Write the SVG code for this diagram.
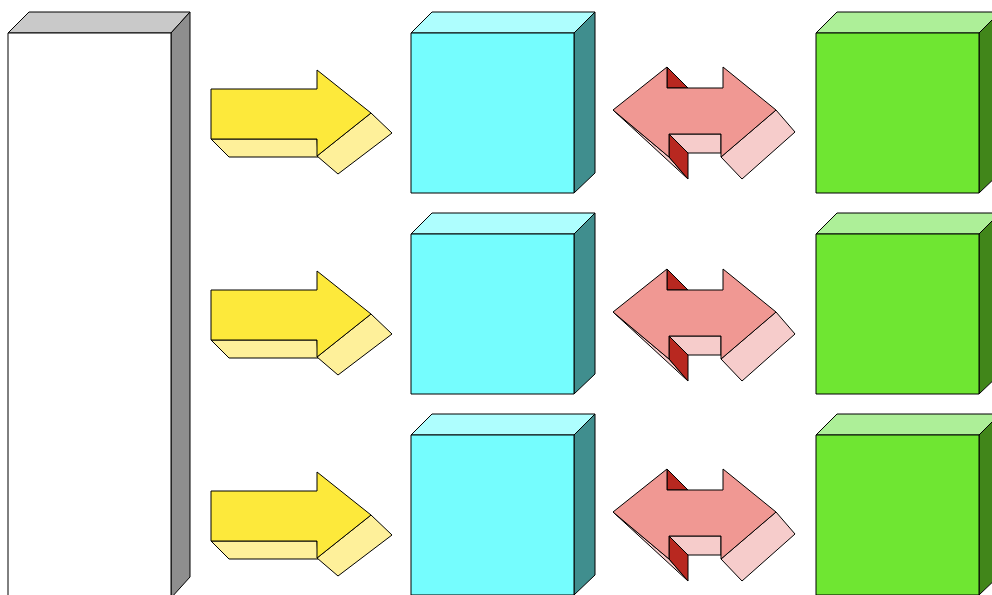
<svg xmlns="http://www.w3.org/2000/svg" xmlns:xlink="http://www.w3.org/1999/xlink" width="992" height="595" viewBox="0 0 992 595">
<style>
  .ln{stroke:#000;stroke-width:1;stroke-linejoin:round}
  .gf{fill:#ffffff}.gt{fill:#c9c9c9}.gs{fill:#8e8e8e}
  .cf{fill:#75fdfe}.ct{fill:#aefefe}.cs{fill:#408e8e}
  .nf{fill:#6fe632}.nt{fill:#adef98}.ns{fill:#41861a}
  .ym{fill:#fde93b}.yl{fill:#fef09a}
  .rm{fill:#f09893}.rl{fill:#f6cccb}.rd{fill:#b82820}
</style>
<defs>
  <g id="cyanCube">
    <polygon class="ct ln" points="411,33 432,12 595,12 574,33"/>
    <polygon class="cs ln" points="574,33 595,12 595,173 574,193"/>
    <rect class="cf ln" x="411" y="33" width="163" height="160"/>
  </g>
  <g id="greenCube">
    <polygon class="nt ln" points="816,33 837,12 1000,12 979,33"/>
    <polygon class="ns ln" points="979,33 1000,12 1000,173 979,193"/>
    <rect class="nf ln" x="816" y="33" width="163" height="160"/>
  </g>
  <g id="yArrow">
    <polygon class="yl ln" points="211,139 229,157 318,157 317,139"/>
    <polygon class="yl ln" points="371,113 392,133 338,174 317,156"/>
    <polygon class="ym ln" points="211,89 317,89 317,70 371,113 317,156 317,139 211,139"/>
  </g>
  <g id="rArrow">
    <polygon class="rl ln" points="613,110 688,179 669,157"/>
    <polygon class="rd ln" points="669,134 688,153 688,179 669,157"/>
    <polygon class="rl ln" points="669,134 721,134 721,153 688,153"/>
    <polygon class="rd ln" points="667,67 688,88 667,88"/>
    <polygon class="rl ln" points="776,110 795,132 742,179 721,157"/>
    <polygon class="rm ln" points="613,110 667,67 667,88 723,88 723,67 776,110 721,157 721,134 669,134 669,157"/>
  </g>
</defs>
<g id="source">
  <polygon class="gt ln" points="8,33 29,12 190,12 171,33"/>
  <polygon class="gs ln" points="171,33 190,12 190,577 171,598"/>
  <rect class="gf ln" x="8" y="33" width="163" height="565"/>
</g>
<g id="mid1"><use xlink:href="#cyanCube"/></g>
<g id="mid2" transform="translate(0,201)"><use xlink:href="#cyanCube"/></g>
<g id="mid3" transform="translate(0,402)"><use xlink:href="#cyanCube"/></g>
<g id="end1"><use xlink:href="#greenCube"/></g>
<g id="end2" transform="translate(0,201)"><use xlink:href="#greenCube"/></g>
<g id="end3" transform="translate(0,402)"><use xlink:href="#greenCube"/></g>
<g id="connectors">
  <g id="arrowA1"><use xlink:href="#yArrow"/></g>
  <g id="arrowA2" transform="translate(0,201)"><use xlink:href="#yArrow"/></g>
  <g id="arrowA3" transform="translate(0,402)"><use xlink:href="#yArrow"/></g>
  <g id="arrowB1"><use xlink:href="#rArrow"/></g>
  <g id="arrowB2" transform="translate(0,202)"><use xlink:href="#rArrow"/></g>
  <g id="arrowB3" transform="translate(0,402)"><use xlink:href="#rArrow"/></g>
</g>
</svg>
